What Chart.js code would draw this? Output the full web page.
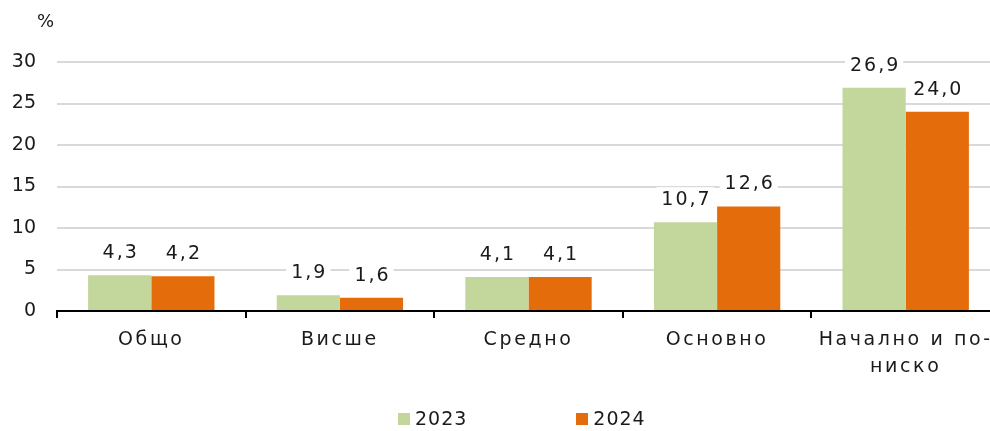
<!DOCTYPE html>
<html>
<head>
<meta charset="utf-8">
<script src="https://cdn.jsdelivr.net/npm/chart.js@4"></script>
<style>
  body { margin: 0; background: #fff; }
  #wrap { position: relative; width: 990px; height: 431px; overflow: hidden; }
  #legend { position: absolute; left: 398px; top: 407px; display: flex; gap: 109px;
            font-family: 'DejaVu Sans', Verdana, sans-serif; font-size: 19px; color: #1a1a1a; letter-spacing: 1px; }
  #legend span.box { display: inline-block; width: 12px; height: 12px; margin-right: 5px; vertical-align: 0px; }
</style>
</head>
<body>
<div id="wrap">
  <canvas id="chart" width="1000" height="431"></canvas>
  <div id="legend"></div>
</div>
<script>
var categories = ['Общо', 'Висше', 'Средно', 'Основно', ['Начално и по-', 'ниско']];
var values2023 = [4.3, 1.9, 4.1, 10.7, 26.9];
var values2024 = [4.2, 1.6, 4.1, 12.6, 24.0];
var seriesNames = ['2023', '2024'];
var seriesColors = ['#c3d69b', '#e46c0a'];
var yTicks = [0, 5, 10, 15, 20, 25, 30];

var FONT = "'DejaVu Sans', Verdana, sans-serif";

// value labels above the bars, comma decimals, white box behind
var barLabels = {
    id: 'barLabels',
    afterDatasetsDraw(chart) {
        let ctx = chart.ctx;
        ctx.save();
        ctx.font = '19px ' + FONT;
        ctx.letterSpacing = '2px';
        ctx.textAlign = 'center';
        ctx.textBaseline = 'alphabetic';
        chart.data.datasets.forEach((ds, i) => {
            chart.getDatasetMeta(i).data.forEach((bar, j) => {
                let txt = ds.data[j].toFixed(1).replace('.', ',');
                let w = ctx.measureText(txt).width;
                let y = bar.y - 17;
                ctx.fillStyle = '#fff';
                ctx.fillRect(bar.x - w / 2 - 4, y - 18, w + 8, 23);
                ctx.fillStyle = '#1a1a1a';
                ctx.fillText(txt, bar.x + 1, y);
            });
        });
        ctx.restore();
    }
};

// "%" unit above the y axis
var unitLabel = {
    id: 'unitLabel',
    afterDraw(chart) {
        let ctx = chart.ctx;
        ctx.save();
        ctx.letterSpacing = '0px';
        ctx.font = '18px ' + FONT;
        ctx.fillStyle = '#1a1a1a';
        ctx.textAlign = 'left';
        ctx.textBaseline = 'middle';
        ctx.fillText('%', 37, 22);
        ctx.restore();
    }
};

// x labels are drawn letter-spaced, y labels (z: 1, after datasets) plain
var spacing = {
    id: 'spacing',
    beforeDraw(chart) { chart.ctx.letterSpacing = '2.6px'; },
    afterDatasetsDraw(chart) { chart.ctx.letterSpacing = '0px'; }
};

var chart = new Chart(document.getElementById('chart'), {
    type: 'bar',
    data: {
        labels: categories,
        datasets: [
            { label: seriesNames[0], data: values2023, backgroundColor: seriesColors[0] },
            { label: seriesNames[1], data: values2024, backgroundColor: seriesColors[1] }
        ]
    },
    options: {
        responsive: false,
        animation: false,
        events: [],
        categoryPercentage: 0.67,
        barPercentage: 1.0,
        layout: { padding: { top: 62, left: 0, right: 0, bottom: 0 } },
        plugins: {
            legend: { display: false },
            tooltip: { enabled: false }
        },
        scales: {
            x: {
                grid: { offset: true, drawOnChartArea: false, drawTicks: true, tickLength: 7, color: '#000', lineWidth: 2 },
                border: { display: true, color: '#000', width: 2 },
                ticks: {
                    color: '#1a1a1a',
                    padding: 9,
                    maxRotation: 0,
                    autoSkip: false,
                    font: { size: 19, family: FONT, lineHeight: 1.42 }
                },
                afterFit: (scale) => { scale.height = 120; }
            },
            y: {
                min: 0,
                max: 30,
                afterBuildTicks: (scale) => { scale.ticks = yTicks.map(v => ({ value: v })); },
                grid: { color: '#d9d9d9', lineWidth: 2, drawTicks: false },
                border: { display: false },
                ticks: {
                    z: 1,
                    color: '#1a1a1a',
                    padding: 21,
                    font: { size: 19, family: FONT }
                },
                afterFit: (scale) => { scale.width = 57; }
            }
        }
    },
    plugins: [barLabels, unitLabel, spacing]
});

// html legend built from the series arrays
var legend = document.getElementById('legend');
seriesNames.forEach((name, i) => {
    let item = document.createElement('div');
    item.innerHTML = '<span class="box" style="background:' + seriesColors[i] + '"></span>' + name;
    legend.appendChild(item);
});
</script>
</body>
</html>
